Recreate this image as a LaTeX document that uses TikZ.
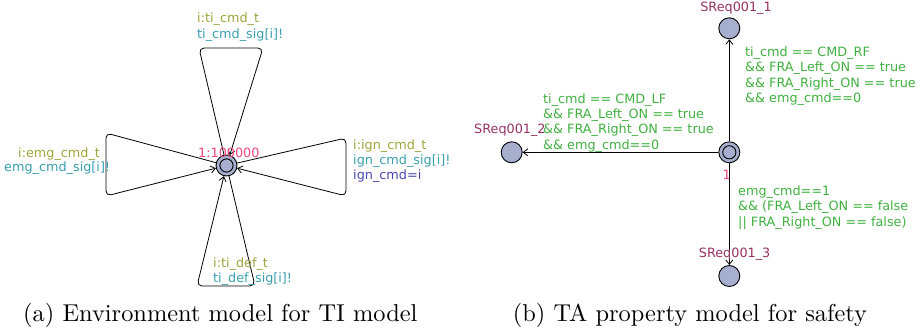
\documentclass[tikz,border=0pt]{standalone}
\usepackage{fontspec}
\newfontfamily\uppaalfont{DejaVu Sans}
\usetikzlibrary{arrows.meta}

\definecolor{locfill}{RGB}{166,176,206}
\definecolor{selcol}{RGB}{160,164,62}
\definecolor{synccol}{RGB}{58,160,176}
\definecolor{updcol}{RGB}{72,72,176}
\definecolor{guardcol}{RGB}{64,176,64}
\definecolor{namecol}{RGB}{150,50,100}
\definecolor{probcol}{RGB}{240,70,130}

\tikzset{
  loc/.style={circle, draw=black, fill=locfill, line width=0.9pt,
              minimum size=21pt, inner sep=0pt},
  edge/.style={draw=black, line width=0.8pt,
               -{Straight Barb[length=4.5pt,width=7pt,line width=0.8pt]}},
  loopedge/.style={edge, rounded corners=5pt},
  lbl/.style={inner sep=0pt, anchor=base west, align=left,
              font=\uppaalfont\fontsize{12.8}{15.4}\selectfont},
  sel/.style={lbl, text=selcol},
  sync/.style={lbl, text=synccol},
  upd/.style={lbl, text=updcol},
  guard/.style={lbl, text=guardcol},
  lname/.style={lbl, text=namecol},
  prob/.style={lbl, text=probcol},
  caption/.style={inner sep=0pt, anchor=base west}
}

\begin{document}
\begin{tikzpicture}[x=1pt, y=-1pt]
\useasboundingbox (0,0) rectangle (922,332);

% ---------- (a) environment automaton: one location, four self-loops ----------
\node[loc] (env) at (226.5,165.5) {};
\draw[line width=0.9pt] (env.center) circle (6.6pt);

% self-loop nails
\coordinate (tl) at (199,48);   \coordinate (tr) at (263,48);
\coordinate (lt) at (106,133);  \coordinate (lb) at (106,196);
\coordinate (rt) at (346,138);  \coordinate (rb) at (346,196);
\coordinate (br) at (255,286);  \coordinate (bl) at (197,286);

\draw[loopedge] (env) -- (tl) -- (tr) -- (env);
\draw[loopedge] (env) -- (lt) -- (lb) -- (env);
\draw[loopedge] (env) -- (rt) -- (rb) -- (env);
\draw[loopedge] (env) -- (br) -- (bl) -- (env);

\node[prob] (envprob) at (198,157) {1:100000};

\node[sel]  (tiSel)  at (197,23)   {i:ti\_cmd\_t};
\node[sync] (tiSync) at (197,38)   {ti\_cmd\_sig[i]!};

\node[sel]  (emgSel)  at (18,157)  {i:emg\_cmd\_t};
\node[sync] (emgSync) at (4,171.5) {emg\_cmd\_sig[i]!};

\node[sel]  (ignSel)  at (353,149.5) {i:ign\_cmd\_t};
\node[sync] (ignSync) at (353,164.5) {ign\_cmd\_sig[i]!};
\node[upd]  (ignUpd)  at (353,179.5) {ign\_cmd=i};

\node[sel]  (defSel)  at (213,267.5) {i:ti\_def\_t};
\node[sync] (defSync) at (213,282.5) {ti\_def\_sig[i]!};

% ---------- (b) safety property automaton ----------
\node[loc] (init) at (729.3,152.3) {};
\draw[line width=0.9pt] (init.center) circle (6.6pt);
\node[loc] (s1) at (729.3,28.3) {};
\node[loc] (s2) at (511.7,152.3) {};
\node[loc] (s3) at (729.3,276) {};

\draw[edge] (init) -- (s1);
\draw[edge] (init) -- (s2);
\draw[edge] (init) -- (s3);

\node[lname, anchor=base] (s1name) at (736,12) {SReq001\_1};
\node[lname] (s2name) at (474,133) {SReq001\_2};
\node[lname] (s3name) at (698.7,257) {SReq001\_3};

\node[prob] (initprob) at (722.5,179.5) {1};

% guards: anchored at the baseline of their last line
\node[guard] (g1) at (745,102.7)
  {ti\_cmd == CMD\_RF\\\&\& FRA\_Left\_ON == true\\\&\& FRA\_Right\_ON == true\\\&\& emg\_cmd==0};
\node[guard] (g2) at (543,149.2)
  {ti\_cmd == CMD\_LF\\\&\& FRA\_Left\_ON == true\\\&\& FRA\_Right\_ON == true\\\&\& emg\_cmd==0};
\node[guard] (g3) at (738,226.3)
  {emg\_cmd==1\\\&\& (FRA\_Left\_ON == false\\|| FRA\_Right\_ON == false)};

% ---------- sub-captions ----------
\node[caption] (capA) at (23,321)
  {\scalebox{2.44}{\fontsize{10}{12}\selectfont (a) Environment model for TI model}};
\node[caption] (capB) at (512.7,321)
  {\scalebox{2.44}{\fontsize{10}{12}\selectfont (b) TA property model for safety}};
\end{tikzpicture}
\end{document}
